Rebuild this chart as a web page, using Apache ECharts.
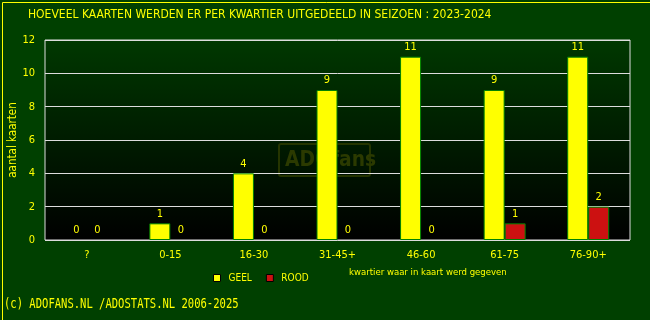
<!DOCTYPE html>
<html><head><meta charset="utf-8">
<script src="https://cdn.jsdelivr.net/npm/echarts@6/dist/echarts.min.js"></script>
<style>html,body{margin:0;padding:0;background:#004000}#c{width:650px;height:320px}</style>
</head><body><div id="c"></div>
<script>
const categories = ['?', '0-15', '16-30', '31-45+', '46-60', '61-75', '76-90+'];
const geel = [0, 1, 4, 9, 11, 9, 11];
const rood = [0, 0, 0, 0, 0, 1, 2];
const seriesNames = ['GEEL', 'ROOD'];
const yTicks = [0, 2, 4, 6, 8, 10, 12];

const chart = echarts.init(document.getElementById('c'), null, {renderer: 'canvas'});
const yellow = '#ffff00';
const cfont = '"DejaVu Sans Condensed", "DejaVu Sans"';
const labelCfg = {show: true, position: 'top', color: yellow, fontFamily: cfont, fontSize: 11, distance: 4};
const toItems = arr => arr.map(v => v === 0 ? {value: v, itemStyle: {borderWidth: 0}} : v);
chart.setOption({
  backgroundColor: '#004000',
  animation: false,
  title: {
    text: 'HOEVEEL KAARTEN WERDEN ER PER KWARTIER UITGEDEELD IN SEIZOEN : 2023-2024',
    left: 23, top: 4,
    textStyle: {color: yellow, fontFamily: cfont, fontSize: 12, fontWeight: 'normal'}
  },
  legend: {
    data: seriesNames, left: 208, top: 268, itemWidth: 7, itemHeight: 7, itemGap: 14,
    icon: 'rect',
    textStyle: {color: yellow, fontFamily: cfont, fontSize: 10, padding: [0, 0, 0, 3]},
    itemStyle: {borderColor: '#000', borderWidth: 1}
  },
  grid: {
    left: 45, top: 40, width: 585, height: 200, show: true,
    outerBoundsMode: 'none', containLabel: false,
    borderColor: '#dddddd', borderWidth: 1,
    backgroundColor: {type: 'linear', x: 0, y: 0, x2: 0, y2: 1,
      colorStops: [{offset: 0, color: '#003800'}, {offset: 1, color: '#000000'}]}
  },
  xAxis: {
    type: 'category', data: categories,
    axisLine: {show: false}, axisTick: {show: false},
    axisLabel: {color: yellow, fontFamily: cfont, fontSize: 11, margin: 10},
    splitLine: {show: false}
  },
  yAxis: {
    type: 'value', min: yTicks[0], max: yTicks[yTicks.length - 1], interval: 2,
    name: 'aantal kaarten', nameLocation: 'middle', nameGap: 26, nameRotate: 90,
    nameMoveOverlap: false,
    nameTextStyle: {color: yellow, fontFamily: cfont, fontSize: 11.5},
    axisLine: {show: false}, axisTick: {show: false},
    axisLabel: {color: yellow, fontFamily: cfont, fontSize: 11, margin: 10},
    splitLine: {lineStyle: {color: '#dddddd', width: 1}}
  },
  series: [
    {name: seriesNames[0], type: 'bar', data: toItems(geel), barWidth: 21, barGap: '0%',
     itemStyle: {color: yellow, borderColor: '#008000', borderWidth: 1}, label: labelCfg},
    {name: seriesNames[1], type: 'bar', data: toItems(rood), barWidth: 21,
     itemStyle: {color: '#cc1111', borderColor: '#008000', borderWidth: 1}, label: labelCfg}
  ],
  graphic: [
    {type: 'rect', left: 0, top: 0, shape: {width: 649, height: 319}, silent: true,
     style: {fill: 'none', stroke: yellow, lineWidth: 1}, z: 100},
    {type: 'group', x: 279, y: 144, z: 0, silent: true, children: [
      {type: 'rect', shape: {x: 0, y: 0, width: 91, height: 32, r: 2},
       style: {fill: 'none', stroke: '#253500', lineWidth: 2}},
      {type: 'text', x: 6, y: 5, scaleX: 0.85, style: {text: 'ADOfans', fill: '#2b3a00',
       fontFamily: 'DejaVu Sans', fontWeight: 'bold', fontSize: 22}}
    ]},
    {type: 'text', left: 349, top: 268, silent: true,
     style: {text: 'kwartier waar in kaart werd gegeven', fill: yellow, font: '9.5px "DejaVu Sans Condensed", "DejaVu Sans"'}},
    {type: 'text', x: 4, y: 297, scaleX: 0.78, silent: true,
     style: {text: '(c) ADOFANS.NL /ADOSTATS.NL 2006-2025', fill: yellow, font: '13.5px "DejaVu Sans Mono"'}}
  ]
});
</script></body></html>
